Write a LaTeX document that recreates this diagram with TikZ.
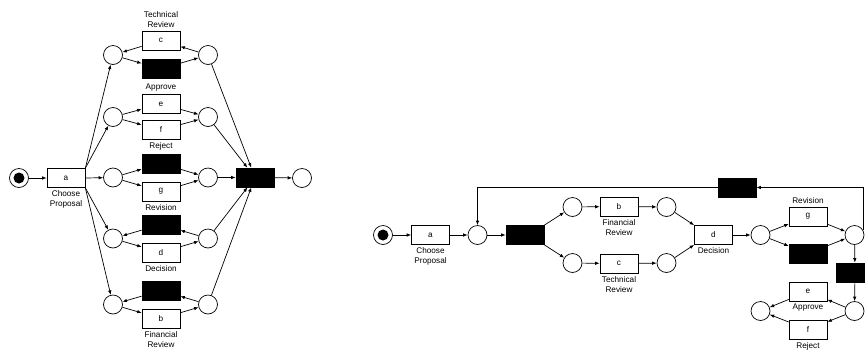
\documentclass[tikz,border=0pt]{standalone}
\usepackage{fontspec}
\setmainfont{Liberation Sans}
\usetikzlibrary{arrows.meta, positioning}

\tikzset{
  place/.style={circle, draw, minimum size=19pt, inner sep=0pt},
  trans/.style={rectangle, draw, minimum width=38pt, minimum height=19pt, inner sep=0pt},
  silent/.style={trans, fill=black},
  marked/.style={place, path picture={\fill (path picture bounding box.center) circle (5.5pt);}},
  lbl/.style={align=center, inner sep=0pt, label distance=2.5pt}
}

\begin{document}
\begin{tikzpicture}[
    x=1pt, y=-1pt,
    line width=0.7pt,
    font=\fontsize{8.2}{10}\selectfont,
    >={Latex[length=4.5pt,width=3.5pt]}
]
\useasboundingbox (0,0) rectangle (865,349);

% first net
\node[marked] (s1) at (19,178) {};
\node[trans, label={[lbl]below:Choose\\Proposal}] (a1) at (66,178) {a};

\node[place] (l1) at (113,55) {};
\node[place] (l2) at (113,117) {};
\node[place] (l3) at (113,177.5) {};
\node[place] (l4) at (113,238.5) {};
\node[place] (l5) at (113,304.5) {};

\node[place] (r1) at (208,55) {};
\node[place] (r2) at (208,117) {};
\node[place] (r3) at (208,177.5) {};
\node[place] (r4) at (208,238.5) {};
\node[place] (r5) at (208,304.5) {};

\node[trans, label={[lbl]above:Technical\\Review}] (c1) at (161,40.5) {c};
\node[silent] (h1) at (161,69) {};
\node[trans, label={[lbl]above:Approve}] (e1) at (161,104) {e};
\node[trans, label={[lbl]below:Reject}] (f1) at (161,130) {f};
\node[silent] (h3) at (161,163.5) {};
\node[trans, label={[lbl]below:Revision}] (g1) at (161,191.5) {g};
\node[silent] (h4) at (161,224.5) {};
\node[trans, label={[lbl]below:Decision}] (d1) at (161,252.5) {d};
\node[silent] (h5) at (161,290.5) {};
\node[trans, label={[lbl]below:Financial\\Review}] (b1) at (161,318.5) {b};

\node[silent] (j1) at (255,177.5) {};
\node[place] (z1) at (302,178) {};

\path[->]
    (s1) edge (a1)
    (a1.north east) edge (l1)
    (a1.north east) edge (l2)
    (a1.east) edge (l3)
    (a1.south east) edge (l4)
    (a1.south east) edge (l5)
    (r1) edge (c1)
    (c1) edge (l1)
    (l1) edge (h1)
    (h1) edge (r1)
    (l2) edge (e1)
    (e1) edge (r2)
    (l2) edge (f1)
    (f1) edge (r2)
    (l3) edge (h3)
    (h3) edge (r3)
    (l3) edge (g1)
    (g1) edge (r3)
    (r4) edge (h4)
    (h4) edge (l4)
    (l4) edge (d1)
    (d1) edge (r4)
    (r5) edge (h5)
    (h5) edge (l5)
    (l5) edge (b1)
    (b1) edge (r5)
    (r1) edge (j1)
    (r2) edge (j1)
    (r3) edge (j1)
    (r4) edge (j1)
    (r5) edge (j1)
    (j1) edge (z1)
    ;

% second net
\node[marked] (s2) at (383,235) {};
\node[trans, label={[lbl]below:Choose\\Proposal}] (a2) at (430.5,235) {a};
\node[place] (p1) at (477.5,235) {};
\node[silent] (t1) at (525,235) {};
\node[place] (p2) at (572.5,207) {};
\node[place] (p3) at (572.5,263) {};
\node[trans, label={[lbl]below:Financial\\Review}] (b2) at (619,206.5) {b};
\node[trans, label={[lbl]below:Technical\\Review}] (c2) at (619,263.5) {c};
\node[place] (p4) at (666.5,207) {};
\node[place] (p5) at (666.5,263) {};
\node[trans, label={[lbl]below:Decision}] (d2) at (713.5,235) {d};
\node[place] (p6) at (760.5,235) {};
\node[trans, label={[lbl]above:Revision}] (g2) at (808,216.5) {g};
\node[silent] (t2) at (808,253.5) {};
\node[place] (p7) at (854.5,235) {};
\node[silent] (t3) at (737,187.5) {};
\node[silent] (t4) at (855,272.5) {};
\node[place] (p8) at (854.5,311) {};
\node[trans, label={[lbl]below:Approve}] (e2) at (808,291.5) {e};
\node[trans, label={[lbl]below:Reject}] (f2) at (808,329.5) {f};
\node[place] (p9) at (760.5,311) {};

\path[->]
    (s2) edge (a2)
    (a2) edge (p1)
    (p1) edge (t1)
    (t1.north east) edge (p2)
    (t1.south east) edge (p3)
    (p2) edge (b2)
    (p3) edge (c2)
    (b2) edge (p4)
    (c2) edge (p5)
    (p4) edge (d2.north west)
    (p5) edge (d2.south west)
    (d2) edge (p6)
    (p6) edge (g2)
    (p6) edge (t2)
    (g2) edge (p7)
    (t2) edge (p7)
    (p7) edge (t4)
    (t4) edge (p8)
    (p8) edge (e2)
    (p8) edge (f2)
    (e2) edge (p9)
    (f2) edge (p9)
    ;
\draw[->] (p7.30) |- (t3);
\draw[->] (t3) -| (p1);

\end{tikzpicture}
\end{document}
